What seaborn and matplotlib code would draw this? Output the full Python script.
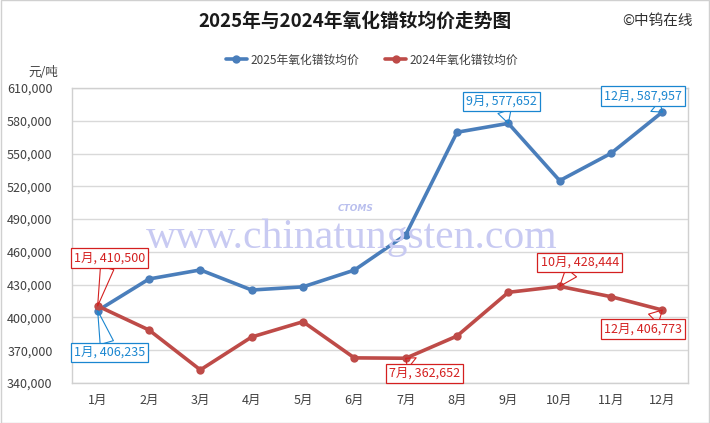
import pandas as pd
import seaborn as sns
import matplotlib.pyplot as plt

# data
months = ['1月', '2月', '3月', '4月', '5月', '6月', '7月', '8月', '9月', '10月', '11月', '12月']
price_2025 = [406235, 435200, 443500, 425100, 428000, 443300, 475500, 569500, 577652, 525200, 550200, 587957]
price_2024 = [410500, 388500, 352000, 382100, 396100, 363000, 362652, 383000, 423000, 428444, 419000, 406773]
series_names = ['2025年氧化镨钕均价', '2024年氧化镨钕均价']
y_ticks = list(range(340000, 610001, 30000))

df = pd.DataFrame({
    'month': months * 2,
    'price': price_2025 + price_2024,
    'series': [series_names[0]] * 12 + [series_names[1]] * 12,
})

blue = '#4a7ebb'
red = '#be4b48'
blue_lbl = '#1a86d0'
red_lbl = '#d42020'

sns.set_theme(style='white')
plt.rcParams['font.family'] = ['Noto Sans CJK SC', 'DejaVu Sans']

fig = plt.figure(figsize=(7.1, 4.23), dpi=100)
ax = fig.add_axes([72 / 710, 1 - 383 / 423, 616 / 710, 295 / 423])

# watermark
fig.text(352 / 710, 1 - 238 / 423, 'www.chinatungsten.com', ha='center', va='center',
         fontsize=30, family='Liberation Serif', color='#c8caf2', zorder=0)
fig.text(356 / 710, 1 - 208 / 423, 'CTOMS', ha='center', va='center',
         fontsize=6.5, fontweight='bold', style='italic', family='DejaVu Sans', color='#b9bfee', zorder=0)

sns.lineplot(data=df, x='month', y='price', hue='series', palette=[blue, red],
             marker='o', markersize=6, markeredgewidth=0, linewidth=2.6, ax=ax, sort=False, zorder=3)

ax.set_xlim(-0.5, 11.5)
ax.set_ylim(340000, 610000)
ax.set_yticks(y_ticks)
ax.set_yticklabels([f'{v:,}' for v in y_ticks])
ax.grid(axis='y', color='#d9d9d9', linewidth=1)
ax.set_axisbelow(True)
for s in ax.spines.values():
    s.set_color('#d0d0d0')
    s.set_linewidth(1)
ax.tick_params(axis='both', length=0, labelsize=9, colors='#404040')
ax.tick_params(axis='y', pad=14)
ax.tick_params(axis='x', pad=8)
ax.set_xlabel('')
ax.set_ylabel('')

# legend
handles, labels = ax.get_legend_handles_labels()
ax.legend(handles, labels, loc='center', bbox_to_anchor=(372 / 710, 1 - 60 / 423), bbox_transform=fig.transFigure,
          ncol=2, frameon=False, fontsize=8.5, handlelength=1.8, handletextpad=0.3, columnspacing=2.2,
          labelcolor='#404040')

# callout labels
callouts = [
    (0, price_2024[0], 12, 48, red_lbl),
    (0, price_2025[0], 12, -42, blue_lbl),
    (8, price_2025[8], -7, 22, blue_lbl),
    (11, price_2025[11], -19, 16, blue_lbl),
    (9, price_2024[9], 20, 24, red_lbl),
    (6, price_2024[6], 19, -15, red_lbl),
    (11, price_2024[11], -19, -19, red_lbl),
]
for i, v, dx, dy, c in callouts:
    ax.annotate(f'{months[i]}, {v:,}', xy=(i, v), xytext=(dx, dy), textcoords='offset pixels',
                ha='center', va='center', fontsize=9, color=c, zorder=5,
                bbox=dict(boxstyle='square,pad=0.25', fc='white', ec=c, lw=0.9),
                arrowprops=dict(arrowstyle='wedge,tail_width=1.1', fc='none', ec=c, lw=0.8,
                                shrinkA=0, shrinkB=0))

# titles and texts
fig.text(355 / 710, 1 - 21 / 423, '2025年与2024年氧化镨钕均价走势图', ha='center', va='center',
         fontsize=13.5, fontweight='bold', color='#1a1a1a')
fig.text(693 / 710, 1 - 21 / 423, '©中钨在线', ha='right', va='center', fontsize=10.5, color='#303030')
fig.text(43 / 710, 1 - 73 / 423, '元/吨', ha='center', va='center', fontsize=9, color='#404040')

# outer frame
fig.patches.append(plt.Rectangle((0.001, 0.001), 0.998, 0.998, transform=fig.transFigure,
                                 fill=False, ec='#d0d0d0', lw=1))

fig.savefig('out.png', dpi=100)
